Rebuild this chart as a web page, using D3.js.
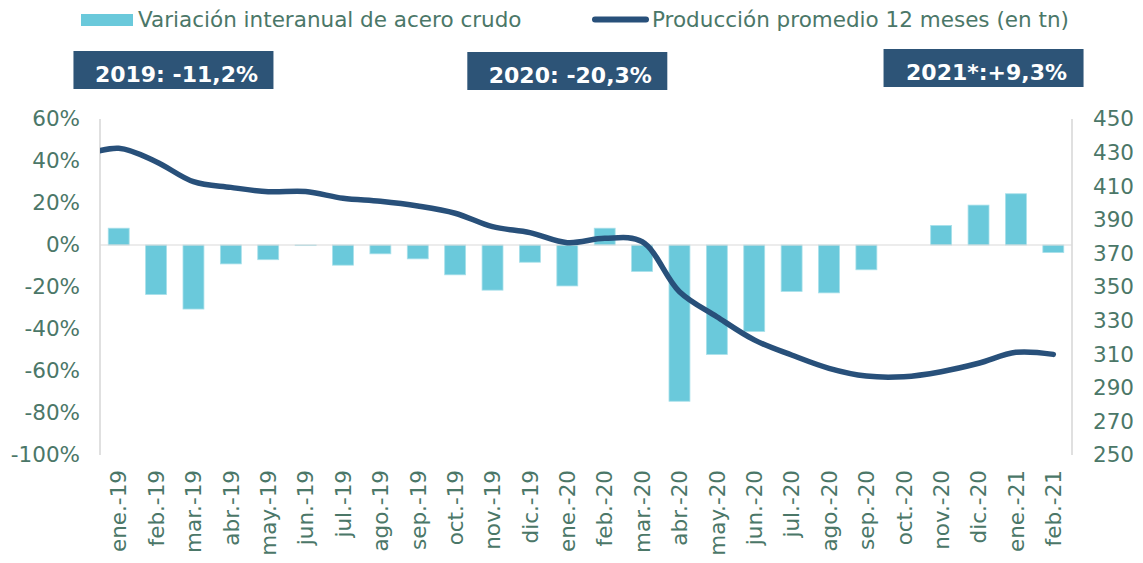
<!DOCTYPE html>
<html>
<head>
<meta charset="utf-8">
<title>Acero crudo</title>
<script src="https://cdn.jsdelivr.net/npm/d3@7/dist/d3.min.js"></script>
<style>
body {
    margin: 0;
    background: #fff;
}
text {
    font-family: "DejaVu Sans", Verdana, sans-serif;
}
.axis path,
.axis line {
    fill: none;
    stroke: none;
}
.axis text {
    fill: #4b7768;
    font-size: 21.5px;
}
</style>
</head>
<body>
<div id="grafico"></div>
<script>
// datos
var meses = ["ene.-19","feb.-19","mar.-19","abr.-19","may.-19","jun.-19","jul.-19","ago.-19","sep.-19","oct.-19","nov.-19","dic.-19",
             "ene.-20","feb.-20","mar.-20","abr.-20","may.-20","jun.-20","jul.-20","ago.-20","sep.-20","oct.-20","nov.-20","dic.-20",
             "ene.-21","feb.-21"];
var variacion = [8.0, -23.6, -30.5, -9.0, -7.0, -0.3, -9.6, -4.2, -6.6, -14.2, -21.5, -8.2,
                 -19.5, 8.0, -12.6, -74.4, -52.1, -41.2, -22.1, -22.8, -11.8, 0, 9.3, 19.0,
                 24.4, -3.6];
var produccion = [432.6, 424.6, 412.7, 409.3, 406.7, 406.8, 402.8, 401.0, 398.2, 393.9, 385.9, 382.4,
                  376.4, 379.0, 377.0, 347.2, 332.3, 318.5, 309.5, 301.6, 297.0, 296.6, 299.6, 304.6,
                  311.1, 309.9];
var produccionDic18 = 428; // punto anterior, queda recortado en el borde
var ticksIzq = [-100, -80, -60, -40, -20, 0, 20, 40, 60];
var ticksDer = [250, 270, 290, 310, 330, 350, 370, 390, 410, 430, 450];
var cajasTexto = ["2019: -11,2%", "2020: -20,3%", "2021*:+9,3%"];
var cajasMes = ["mar.-19", "ene.-20", "dic.-20"];

var W = 1143, H = 563;
var m = {left: 100, right: 1072, top: 119, bottom: 455};

var svg = d3.select("#grafico").append("svg")
    .attr("width", W)
    .attr("height", H);

var x = d3.scaleBand()
    .domain(meses)
    .range([m.left, m.right])
    .paddingInner(0.44)
    .paddingOuter(0.22);

var yIzq = d3.scaleLinear().domain([-100, 60]).range([m.bottom, m.top]);
var yDer = d3.scaleLinear().domain([250, 450]).range([m.bottom, m.top]);

var centro = function(d) { return x(d) + x.bandwidth() / 2; };

// ejes verticales grises
svg.append("line")
    .attr("x1", m.left).attr("x2", m.left)
    .attr("y1", m.top).attr("y2", m.bottom)
    .attr("stroke", "#d9d9d9").attr("stroke-width", 1.6);
svg.append("line")
    .attr("x1", m.right).attr("x2", m.right)
    .attr("y1", m.top).attr("y2", m.bottom)
    .attr("stroke", "#d9d9d9").attr("stroke-width", 1.6);

// barras
svg.append("g").selectAll("rect")
    .data(variacion)
  .enter().append("rect")
    .attr("x", function(d, i) { return x(meses[i]); })
    .attr("width", x.bandwidth())
    .attr("y", function(d) { return yIzq(Math.max(0, d)); })
    .attr("height", function(d) { return Math.abs(yIzq(d) - yIzq(0)); })
    .attr("fill", "#6ac9db")
    .attr("stroke", "#a8e0ea")
    .attr("stroke-width", 0.8);

// linea del cero
svg.append("line")
    .attr("x1", m.left).attr("x2", m.right)
    .attr("y1", yIzq(0)).attr("y2", yIzq(0))
    .attr("stroke", "#d9d9d9").attr("stroke-width", 1.2);

// linea de produccion (suavizada, recortada al area)
svg.append("clipPath").attr("id", "area")
  .append("rect")
    .attr("x", m.left).attr("y", 0)
    .attr("width", m.right - m.left + 10).attr("height", H);

var paso = x.step();
var puntos = [[centro(meses[0]) - paso, yDer(produccionDic18)]].concat(
    produccion.map(function(d, i) { return [centro(meses[i]), yDer(d)]; }));

svg.append("path")
    .attr("clip-path", "url(#area)")
    .attr("d", d3.line().curve(d3.curveCatmullRom.alpha(0.5))(puntos))
    .attr("fill", "none")
    .attr("stroke", "#28507a")
    .attr("stroke-width", 5.5)
    .attr("stroke-linecap", "round")
    .attr("stroke-linejoin", "round");

// eje izquierdo
svg.append("g")
    .attr("class", "axis")
    .attr("transform", "translate(" + (m.left - 20) + ",0)")
    .call(d3.axisLeft(yIzq).tickValues(ticksIzq).tickSize(0).tickPadding(0)
        .tickFormat(function(d) { return d + "%"; }));

// eje derecho
svg.append("g")
    .attr("class", "axis")
    .attr("transform", "translate(" + (m.right + 21) + ",0)")
    .call(d3.axisRight(yDer).tickValues(ticksDer).tickSize(0).tickPadding(0));

// eje x con etiquetas rotadas
var ejeX = svg.append("g")
    .attr("class", "axis")
    .attr("transform", "translate(0," + (m.bottom + 15) + ")")
    .call(d3.axisBottom(x).tickSize(0).tickPadding(0));
ejeX.selectAll("text")
    .attr("transform", "rotate(-90)")
    .attr("text-anchor", "end")
    .attr("x", 0)
    .attr("y", 0)
    .attr("dy", "0.36em");

// leyenda
var ley = svg.append("g");
ley.append("rect")
    .attr("x", 81).attr("y", 14)
    .attr("width", 52).attr("height", 12)
    .attr("fill", "#6ac9db");
ley.append("text")
    .attr("x", 138).attr("y", 26.5)
    .attr("font-size", 21.5)
    .attr("fill", "#4b7768")
    .text("Variación interanual de acero crudo");
ley.append("line")
    .attr("x1", 595).attr("x2", 646)
    .attr("y1", 19.5).attr("y2", 19.5)
    .attr("stroke", "#28507a")
    .attr("stroke-width", 6)
    .attr("stroke-linecap", "round");
ley.append("text")
    .attr("x", 652).attr("y", 26.5)
    .attr("font-size", 21.5)
    .attr("fill", "#4b7768")
    .text("Producción promedio 12 meses (en tn)");

// cajas con variacion anual
var posY = [51, 52, 49];
var desvio = [-20, 0, 5];
var caja = svg.append("g").selectAll("g")
    .data(cajasTexto)
  .enter().append("g")
    .attr("transform", function(d, i) {
        return "translate(" + (centro(cajasMes[i]) + desvio[i] - 100) + "," + posY[i] + ")";
    });
caja.append("rect")
    .attr("width", 200)
    .attr("height", 38)
    .attr("fill", "#2d5477");
caja.append("text")
    .attr("x", 103)
    .attr("y", 31)
    .attr("text-anchor", "middle")
    .attr("font-size", 22)
    .attr("font-weight", "bold")
    .attr("fill", "#fff")
    .text(function(d) { return d; });
</script>
</body>
</html>
